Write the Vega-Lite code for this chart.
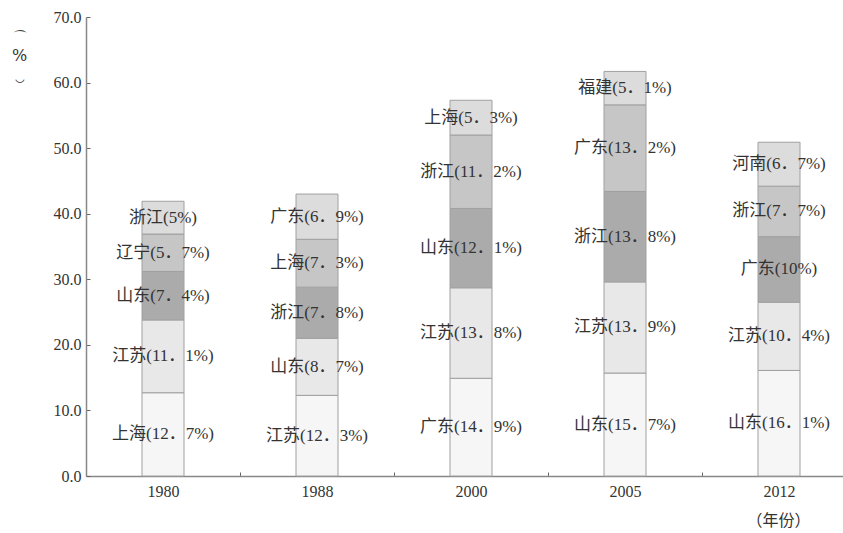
{
  "$schema": "https://vega.github.io/schema/vega-lite/v6.json",
  "autosize": {"type": "none"},
  "width": 757,
  "height": 459,
  "padding": {"left": 86, "top": 17, "right": 0, "bottom": 57},
  "background": "white",
  "config": {
    "view": {"stroke": null},
    "font": "Liberation Serif, Noto Sans CJK SC",
    "axis": {"labelFont": "Liberation Serif", "titleFont": "Noto Sans CJK SC", "grid": false}
  },
  "data": {
    "values": [
      {"year": "1980", "rank": 1, "province": "上海", "value": 12.7, "label": "上海(12．7%)"},
      {"year": "1980", "rank": 2, "province": "江苏", "value": 11.1, "label": "江苏(11．1%)"},
      {"year": "1980", "rank": 3, "province": "山东", "value": 7.4, "label": "山东(7．4%)"},
      {"year": "1980", "rank": 4, "province": "辽宁", "value": 5.7, "label": "辽宁(5．7%)"},
      {"year": "1980", "rank": 5, "province": "浙江", "value": 5.0, "label": "浙江(5%)"},
      {"year": "1988", "rank": 1, "province": "江苏", "value": 12.3, "label": "江苏(12．3%)"},
      {"year": "1988", "rank": 2, "province": "山东", "value": 8.7, "label": "山东(8．7%)"},
      {"year": "1988", "rank": 3, "province": "浙江", "value": 7.8, "label": "浙江(7．8%)"},
      {"year": "1988", "rank": 4, "province": "上海", "value": 7.3, "label": "上海(7．3%)"},
      {"year": "1988", "rank": 5, "province": "广东", "value": 6.9, "label": "广东(6．9%)"},
      {"year": "2000", "rank": 1, "province": "广东", "value": 14.9, "label": "广东(14．9%)"},
      {"year": "2000", "rank": 2, "province": "江苏", "value": 13.8, "label": "江苏(13．8%)"},
      {"year": "2000", "rank": 3, "province": "山东", "value": 12.1, "label": "山东(12．1%)"},
      {"year": "2000", "rank": 4, "province": "浙江", "value": 11.2, "label": "浙江(11．2%)"},
      {"year": "2000", "rank": 5, "province": "上海", "value": 5.3, "label": "上海(5．3%)"},
      {"year": "2005", "rank": 1, "province": "山东", "value": 15.7, "label": "山东(15．7%)"},
      {"year": "2005", "rank": 2, "province": "江苏", "value": 13.9, "label": "江苏(13．9%)"},
      {"year": "2005", "rank": 3, "province": "浙江", "value": 13.8, "label": "浙江(13．8%)"},
      {"year": "2005", "rank": 4, "province": "广东", "value": 13.2, "label": "广东(13．2%)"},
      {"year": "2005", "rank": 5, "province": "福建", "value": 5.1, "label": "福建(5．1%)"},
      {"year": "2012", "rank": 1, "province": "山东", "value": 16.1, "label": "山东(16．1%)"},
      {"year": "2012", "rank": 2, "province": "江苏", "value": 10.4, "label": "江苏(10．4%)"},
      {"year": "2012", "rank": 3, "province": "广东", "value": 10.0, "label": "广东(10%)"},
      {"year": "2012", "rank": 4, "province": "浙江", "value": 7.7, "label": "浙江(7．7%)"},
      {"year": "2012", "rank": 5, "province": "河南", "value": 6.7, "label": "河南(6．7%)"}
    ]
  },
  "transform": [
    {"stack": "value", "groupby": ["year"], "sort": [{"field": "rank", "order": "ascending"}], "as": ["v0", "v1"]},
    {"calculate": "(datum.v0 + datum.v1) / 2", "as": "vmid"}
  ],
  "encoding": {
    "x": {
      "field": "year", "type": "ordinal",
      "scale": {"range": [0, 770], "paddingInner": 0, "paddingOuter": 0},
      "axis": {
        "labelAngle": 0, "labelFontSize": 16, "labelColor": "#333", "labelPadding": 11,
        "domainColor": "#888", "domainWidth": 1.5,
        "ticks": true, "tickBand": "extent", "tickSize": -4, "tickColor": "#666",
        "title": "（年份）", "titleFontSize": 16, "titleColor": "#333", "titleFontWeight": "normal",
        "titleX": 692, "titleY": 44, "titleAlign": "center", "titleBaseline": "middle"
      }
    }
  },
  "layer": [
    {
      "mark": {"type": "bar", "width": 42, "stroke": "#a0a0a0", "strokeWidth": 1},
      "encoding": {
        "y": {
          "field": "v0", "type": "quantitative",
          "scale": {"domain": [0, 70]},
          "axis": {
            "values": [0, 10, 20, 30, 40, 50, 60, 70], "format": ".1f",
            "labelFontSize": 16, "labelColor": "#333", "labelPadding": 9,
            "domainColor": "#888", "domainWidth": 1.5,
            "tickSize": -4, "tickColor": "#666",
            "title": ["⌒", "%", "‿"], "titleFont": "DejaVu Serif", "titleAngle": 0, "titleFontSize": 16, "titleColor": "#333",
            "titleFontWeight": "normal", "titleX": -67, "titleY": 12, "titleAlign": "center",
            "titleBaseline": "top", "titleLineHeight": 18
          }
        },
        "y2": {"field": "v1"},
        "fill": {
          "field": "rank", "type": "ordinal",
          "scale": {"domain": [1, 2, 3, 4, 5], "range": ["#f6f6f6", "#e8e8e8", "#ababab", "#c6c6c6", "#dcdcdc"]},
          "legend": null
        }
      }
    },
    {
      "mark": {"type": "text", "fontSize": 17, "color": "#333", "align": "center", "baseline": "middle", "font": "Liberation Serif, Noto Sans CJK SC"},
      "encoding": {
        "y": {"field": "vmid", "type": "quantitative"},
        "text": {"field": "label"}
      }
    }
  ]
}
